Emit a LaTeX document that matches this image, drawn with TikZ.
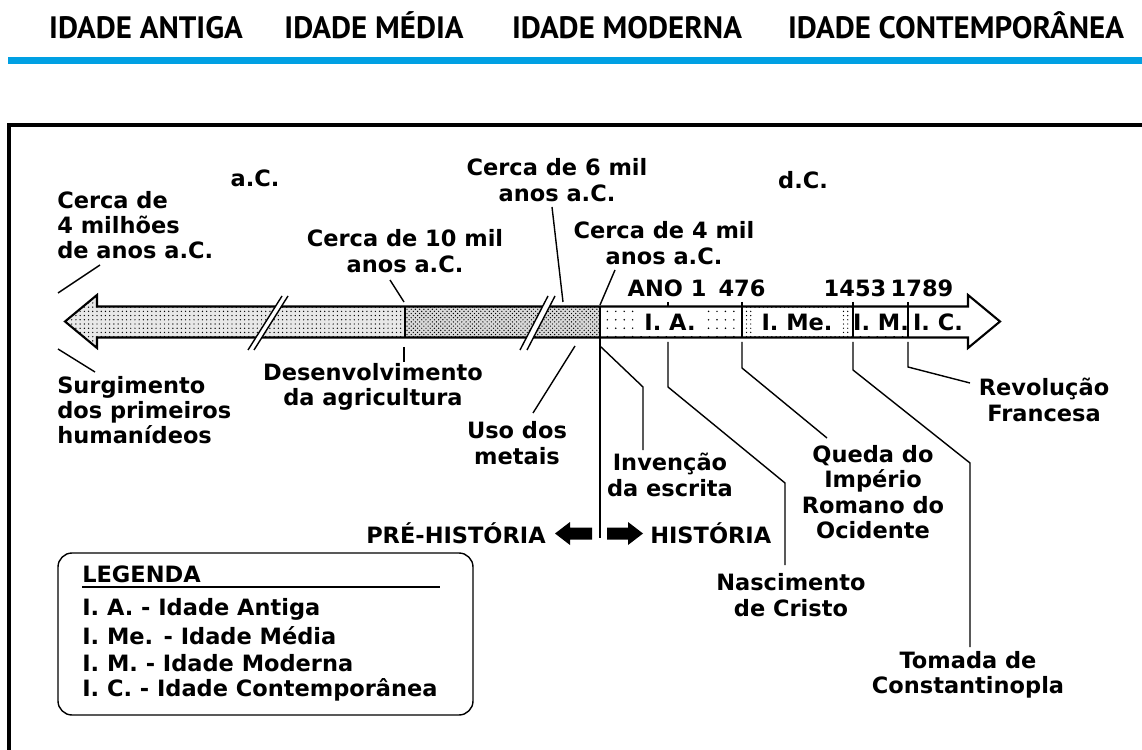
\documentclass[tikz,border=0pt]{standalone}
\usepackage{fontspec}
\setmainfont{DejaVu Sans}
\newfontfamily\headfont{PT Sans}
\usetikzlibrary{patterns}
\definecolor{headerblue}{RGB}{0,160,227}
\pgfdeclarepatternformonly{sparse dots}{\pgfqpoint{-1pt}{-1pt}}{\pgfqpoint{1pt}{1pt}}{\pgfqpoint{6pt}{6pt}}{\pgfpathcircle{\pgfqpoint{0pt}{0pt}}{.6pt}\pgfusepath{fill}}
\tikzset{
  lbl/.style={font=\bfseries\fontsize{16}{18}\selectfont, align=center, inner sep=0pt},
  head/.style={font=\headfont\bfseries\fontsize{22}{24}\selectfont, inner sep=0pt, anchor=base},
  lead/.style={line width=1pt},
  era/.style={lbl, fill=white, inner xsep=5pt, inner ysep=4pt}
}

\begin{document}
\begin{tikzpicture}[x=0.25mm, y=-0.25mm]
\useasboundingbox (0,0) rectangle (1142,750);
% header
\node[head] (hantiga) at (146,39) {IDADE ANTIGA};
\node[head] (hmedia) at (374,39) {IDADE MÉDIA};
\node[head] (hmoderna) at (627,39) {IDADE MODERNA};
\node[head] (hcontemp) at (956,39) {IDADE CONTEMPORÂNEA};
\draw[headerblue, line width=5pt] (8,60.5) -- (1142,60.5);
% frame
\draw[line width=2.2pt] (9,760) -- (9,125) -- (1150,125);

% timeline fills
\fill[gray!18] (65,321.5) -- (97,295) -- (97,306.5) -- (405,306.5) -- (405,337.5) -- (97,337.5) -- (97,348) -- cycle;
\fill[pattern=dots] (65,321.5) -- (97,295) -- (97,306.5) -- (405,306.5) -- (405,337.5) -- (97,337.5) -- (97,348) -- cycle;
\fill[gray!30] (405,306.5) rectangle (600,337.5);
\fill[pattern=crosshatch dots] (405,306.5) rectangle (600,337.5);
\fill[pattern=sparse dots] (600,306.5) rectangle (742,337.5);
\fill[pattern=dots] (742,306.5) rectangle (853,337.5);
\fill[pattern=sparse dots] (853,306.5) rectangle (908,337.5);
\node[era] (ia) at (670,322) {I. A.};
\node[era, inner xsep=6pt] (ime) at (797,322) {I. Me.};
\node[era, inner xsep=1.5pt] (im) at (881,322) {I. M.};
\node[lbl] (ic) at (938,322) {I. C.};
\draw[line width=1.5pt] (65,321.5) -- (97,295) -- (97,306.5) -- (968,306.5) -- (968,295) -- (1000,321.5) -- (968,348) -- (968,337.5) -- (97,337.5) -- (97,348) -- cycle;
\draw[line width=1.2pt] (405,306.5) -- (405,337.5);
\draw[line width=1.2pt] (742,302) -- (742,337.5);
\draw[line width=1.2pt] (853,302) -- (853,337.5);
\draw[line width=1.2pt] (908,302) -- (908,337.5);
\draw[line width=1.2pt] (668,302) -- (668,306.5);
% breaks
\fill[white] (282,296) -- (288,296) -- (254,350) -- (248,350) -- cycle;
\draw[lead] (282,296) -- (248,350);
\draw[lead] (288,296) -- (254,350);
\fill[white] (548,296) -- (555,296) -- (527,350) -- (520,350) -- cycle;
\draw[lead] (548,296) -- (520,350);
\draw[lead] (555,296) -- (527,350);

% years
\node[lbl] (ano1) at (667,288) {ANO 1};
\node[lbl] (y476) at (742,288) {476};
\node[lbl] (y1453) at (855,288) {1453};
\node[lbl] (y1789) at (922,288) {1789};
\node[lbl] (ac) at (255,178) {a.C.};
\node[lbl] (dc) at (803,180) {d.C.};

% events
\node[lbl, anchor=west, align=left] (milhoes) at (57,225) {Cerca de\\4 milhões\\de anos a.C.};
\node[lbl, anchor=west, align=left] (surg) at (57,410) {Surgimento\\dos primeiros\\humanídeos};
\node[lbl] (dezmil) at (405,251) {Cerca de 10 mil\\anos a.C.};
\node[lbl] (desenv) at (373,387) {Desenvolvimento\\da agricultura};
\node[lbl] (seismil) at (557,180) {Cerca de 6 mil\\anos a.C.};
\node[lbl] (quatromil) at (664,243) {Cerca de 4 mil\\anos a.C.};
\node[lbl] (metais) at (517,443) {Uso dos\\metais};
\node[lbl] (escrita) at (670,475) {Invenção\\da escrita};
\node[lbl] (cristo) at (791,595) {Nascimento\\de Cristo};
\node[lbl] (queda) at (873,492) {Queda do\\Império\\Romano do\\Ocidente};
\node[lbl] (tomada) at (968,675) {Tomada de\\Constantinopla};
\node[lbl] (revol) at (1044,400) {Revolução\\Francesa};

% leader ends
\coordinate (milA) at (100,265);
\coordinate (milB) at (58,293);
\coordinate (surA) at (58,349);
\coordinate (surB) at (95,372);
\coordinate (dezA) at (390,280);
\coordinate (dezB) at (404,302);
\coordinate (desA) at (404,347);
\coordinate (desB) at (404,362);
\coordinate (seiA) at (552,207);
\coordinate (seiB) at (563,302);
\coordinate (quaA) at (615,270);
\coordinate (quaB) at (600,305);
\coordinate (metA) at (575,346);
\coordinate (metB) at (533,413);
\coordinate (escA) at (601,347);
\coordinate (escB) at (643,387);
\coordinate (escC) at (643,450);
\coordinate (criA) at (668,342);
\coordinate (criB) at (668,387);
\coordinate (criC) at (785,483);
\coordinate (criD) at (785,565);
\coordinate (queA) at (742,342);
\coordinate (queB) at (742,368);
\coordinate (queC) at (827,438);
\coordinate (tomA) at (853,342);
\coordinate (tomB) at (853,370);
\coordinate (tomC) at (970,463);
\coordinate (tomD) at (970,647);
\coordinate (revA) at (908,342);
\coordinate (revB) at (908,367);
\coordinate (revC) at (970,383);
\coordinate (divA) at (600,306.5);
\coordinate (divB) at (600,538);

\draw[lead] (milA) -- (milB);
\draw[lead] (surA) -- (surB);
\draw[lead] (dezA) -- (dezB);
\draw[lead] (desA) -- (desB);
\draw[lead] (seiA) -- (seiB);
\draw[lead] (quaA) -- (quaB);
\draw[lead] (metA) -- (metB);
\draw[lead] (escA) -- (escB) -- (escC);
\draw[lead] (criA) -- (criB) -- (criC) -- (criD);
\draw[lead] (queA) -- (queB) -- (queC);
\draw[lead] (tomA) -- (tomB) -- (tomC) -- (tomD);
\draw[lead] (revA) -- (revB) -- (revC);
\draw[line width=1.2pt] (divA) -- (divB);

% pre-historia / historia
\node[lbl, anchor=east] (prehist) at (546,533) {PRÉ-HISTÓRIA};
\node[lbl, anchor=west] (hist) at (650,533) {HISTÓRIA};
\fill (555,533.5) -- (570,522) -- (570,527.5) -- (592,527.5) -- (592,539.5) -- (570,539.5) -- (570,545) -- cycle;
\fill (643,533.5) -- (628,522) -- (628,527.5) -- (607,527.5) -- (607,539.5) -- (628,539.5) -- (628,545) -- cycle;

% legenda
\draw[line width=1pt, rounded corners=10pt] (58,553) rectangle (473,715);
\node[lbl, anchor=west] (legenda) at (82,574) {LEGENDA};
\draw[lead] (82,587) -- (440,587);
\node[lbl, anchor=west] (legia) at (82,609) {I. A. - Idade Antiga};
\node[lbl, anchor=west] (legime) at (82,636) {I. Me. - Idade Média};
\node[lbl, anchor=west] (legim) at (82,663) {I. M. - Idade Moderna};
\node[lbl, anchor=west] (legic) at (82,690) {I. C. - Idade Contemporânea};
\end{tikzpicture}
\end{document}
